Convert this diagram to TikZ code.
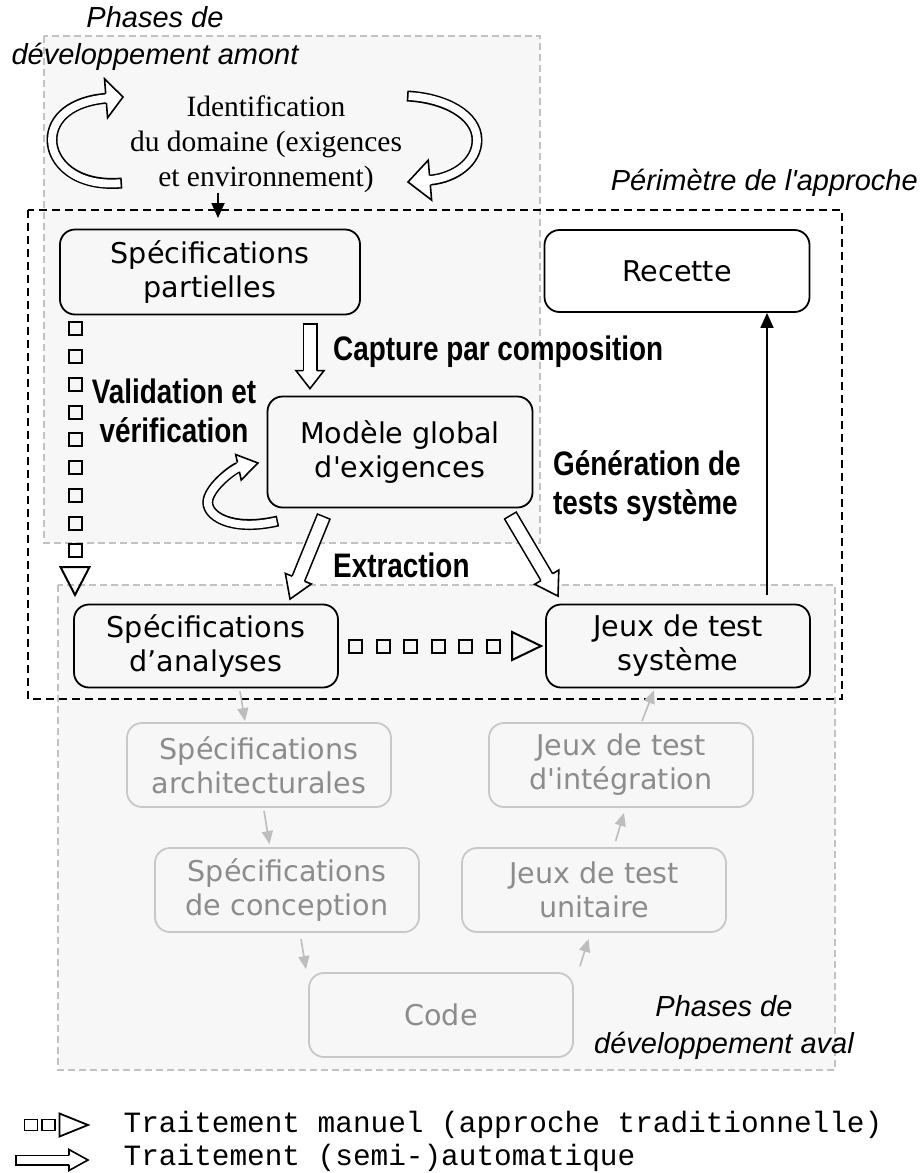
\documentclass[tikz,border=0pt]{standalone}
\usepackage{fontspec}
\setmainfont{DejaVu Sans}
\newfontfamily\boxfont{DejaVu Sans}
\newfontfamily\lblfont{Liberation Sans}
\newfontfamily\nbfont[FakeStretch=0.82]{Liberation Sans}
\newfontfamily\serfont{Liberation Serif}
\newfontfamily\legfont{Liberation Mono}
\usetikzlibrary{decorations.markings,calc,arrows.meta}
\definecolor{regfill}{HTML}{F7F7F7}
\definecolor{regdash}{HTML}{C2C2C2}
\definecolor{gtext}{HTML}{8C8C8C}
\definecolor{gborder}{HTML}{C8C8C8}
\definecolor{garrow}{HTML}{BDBDBD}

% #1 shaft outer width, #2 head half width, #3 head length, #4 path
\newcommand{\hollowarrow}[4]{%
  \pgfmathsetmacro{\hwout}{#1}%
  \pgfmathsetmacro{\hwin}{#1-3.2}%
  \pgfmathsetmacro{\hedge}{(#1-1.6)/2}%
  \pgfmathsetmacro{\shw}{#3-1.2}%
  \draw[line width=\hwout pt, line cap=butt, shorten >=#3pt] #4;
  \draw[line width=\hwin pt, white, line cap=butt, shorten >=\shw pt, shorten <=1.6pt] #4;
  \path[decoration={markings, mark=at position 1 with {\draw[line width=1.6pt, fill=white, line join=miter] (-#3pt,\hedge pt) -- (-#3pt,#2pt) -- (0pt,0pt) -- (-#3pt,-#2pt) -- (-#3pt,-\hedge pt);}}, decorate] #4;
}

\tikzset{
  region/.style={draw=regdash, fill=regfill, line width=1.4pt, dash pattern=on 7pt off 4pt},
  boxn/.style={draw, rounded corners=15pt, line width=1.8pt, minimum width=264pt, minimum height=83pt,
    align=center, inner sep=0pt, font=\boxfont\fontsize{28.6}{34}\selectfont},
  grayn/.style={boxn, draw=gborder, text=gtext, minimum height=84pt},
  grayarr/.style={draw=garrow, line width=1.6pt, -{Triangle[length=13pt,width=11pt]}},
  blackarr/.style={line width=1.8pt, -{Triangle[length=15pt,width=13pt]}},
  itlbl/.style={font=\lblfont\itshape\fontsize{29}{37}\selectfont, inner sep=0pt, align=center},
  bdlbl/.style={font=\nbfont\bfseries\fontsize{34}{39}\selectfont, inner sep=0pt},
  leglbl/.style={font=\legfont\fontsize{29.4}{34}\selectfont, inner sep=0pt, anchor=west},
}

\begin{document}
\begin{tikzpicture}[x=1pt, y=-1pt]
\useasboundingbox (0,0) rectangle (922,1173);
\fill[white] (0,0) rectangle (922,1173);

% phase regions
\path[region] (44,36) rectangle (540,543);
\path[region] (58,585) rectangle (835,1070);
% perimeter
\draw[line width=2pt, dash pattern=on 8pt off 5pt] (28,210) rectangle (842,699);

% labels
\node[itlbl] (amont) at (155,38) {Phases de\\développement amont};
\node[itlbl, anchor=east] (perim) at (918,183) {Périmètre de l'approche};
\node[itlbl] (aval) at (724,1027) {Phases de\\développement aval};
\node[font=\serfont\fontsize{29.5}{35}\selectfont, align=center, inner sep=0pt] (ident) at (266,144)
  {Identification\\du domaine (exigences\\et environnement)};

% main nodes
\node[boxn, minimum width=300pt, minimum height=85pt] (sp) at (210,272) {Spécifications\\partielles};
\node[boxn, minimum width=265pt, minimum height=82pt] (rec) at (677,271) {Recette};
\node[boxn, minimum width=265pt, minimum height=111pt] (mg) at (400,452) {Modèle global\\d'exigences};
\node[boxn] (sa) at (206,646) {Spécifications\\d’analyses};
\node[boxn] (jts) at (678,646) {Jeux de test\\système};

% gray nodes
\node[grayn] (arch) at (259,765) {Spécifications\\architecturales};
\node[grayn] (integ) at (621,765) {Jeux de test\\d'intégration};
\node[grayn] (conc) at (287,890) {Spécifications\\de conception};
\node[grayn] (unit) at (594,890) {Jeux de test\\unitaire};
\node[grayn] (code) at (441,1015) {Code};

% bold labels
\node[bdlbl, anchor=west] (capl) at (333,352) {Capture par composition};
\node[bdlbl, align=center] (vvl) at (174,411) {Validation et\\vérification};
\node[bdlbl, anchor=west] (extl) at (333,565) {Extraction};
\node[bdlbl, align=left, anchor=west] (genl) at (553,486) {Génération de\\tests système};

% gray arrows
\draw[grayarr] ($(sa.south)+(34,3)$) -- ($(arch.north)+(-14,-1)$);
\draw[grayarr] ($(arch.south)+(5,3)$) -- ($(conc.north)+(-17.5,-3)$);
\draw[grayarr] ($(conc.south)+(14,6)$) -- ($(code.north)+(-135,-3)$);
\draw[grayarr] ($(code.north)+(139,-6)$) -- ($(unit.south)+(-5.5,6)$);
\draw[grayarr] ($(unit.north)+(21.6,-6)$) -- ($(integ.south)+(3,5)$);
\draw[grayarr] ($(integ.north)+(21,-1)$) -- ($(jts.south)+(-24,2)$);

% black arrows
\coordinate (ia) at (218,218);
\draw[blackarr] (ident.south -| ia) -- (ia);
\coordinate (ra) at ($(jts.north)+(89,-9)$);
\draw[blackarr] (ra) -- (ra |- rec.south);

% hollow (semi-)automatic arrows
\coordinate (cap1) at ($(sp.south)+(100,8)$);
\coordinate (cap2) at ($(mg.north)+(-90,-7)$);
\hollowarrow{15}{14}{18}{(cap1) -- (cap2)}
\coordinate (ex1) at ($(mg.south)+(-76,7.5)$);
\coordinate (ex2) at ($(sa.north)+(84,-4.5)$);
\hollowarrow{15}{14}{22}{(ex1) -- (ex2)}
\coordinate (ge1) at ($(mg.south)+(110,6.5)$);
\coordinate (ge2) at ($(jts.north)+(-120,-7.5)$);
\hollowarrow{15}{14}{22}{(ge1) -- (ge2)}

% curved hollow arrows
\hollowarrow{11}{19.5}{17}{(122,183) .. controls (75,187) and (52,162) .. (52,140) .. controls (52,118) and (72,101) .. (123,97)}
\hollowarrow{11}{20}{22}{(407,96) .. controls (445,98) and (477,115) .. (477,140) .. controls (477,162) and (455,178) .. (408,182)}
\hollowarrow{11}{13}{20}{(278,521) .. controls (230,532) and (205,515) .. (208,500) .. controls (211,485) and (235,468) .. (258,463)}

% manual arrows
\coordinate (vx) at (75,0);
\coordinate (vt) at (75,595);
\path[decoration={markings,
   mark=between positions 13.5pt and 236pt step 27.75pt with {\draw[line width=2pt] (-6.5pt,-6.5pt) rectangle (6.5pt,6.5pt);},
   mark=at position 1 with {\draw[line width=2pt, line join=miter] (0pt,0pt) -- (-28pt,14.5pt) -- (-28pt,-14.5pt) -- cycle;}},
   decorate] (sp.south -| vx) -- (vt);
\coordinate (ht) at ($(jts.west)+(-4,0)$);
\path[decoration={markings,
   mark=between positions 17pt and 156pt step 27.5pt with {\draw[line width=2pt] (-6.5pt,-6.5pt) rectangle (6.5pt,6.5pt);},
   mark=at position 1 with {\draw[line width=2pt, line join=miter] (0pt,0pt) -- (-29pt,14pt) -- (-29pt,-14pt) -- cycle;}},
   decorate] (sa.east) -- (ht);

% legend
\draw[line width=1.8pt] (24.5,1119.5) rectangle (37.5,1130.5);
\draw[line width=1.8pt] (42,1119.5) rectangle (55,1130.5);
\draw[line width=1.8pt, line join=miter] (59.5,1113.5) -- (88,1125) -- (59.5,1136.5) -- cycle;
\node[leglbl] (leg1) at (123.5,1125) {Traitement manuel (approche traditionnelle)};
\hollowarrow{11}{10.5}{19}{(15,1160) -- (88,1160)}
\node[leglbl] (leg2) at (123.5,1158) {Traitement (semi-)automatique};
\end{tikzpicture}
\end{document}
